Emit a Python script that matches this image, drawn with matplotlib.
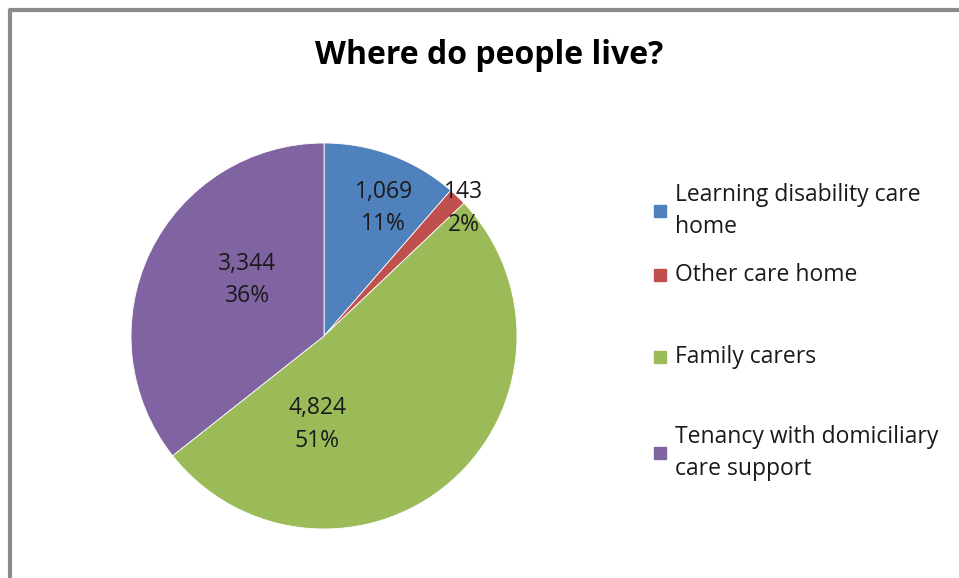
import numpy as np
import matplotlib
matplotlib.use("Agg")
import matplotlib.pyplot as plt
from matplotlib.patches import Rectangle

plt.rcParams['font.family'] = ['Open Sans', 'DejaVu Sans']

categories = ["Learning disability care\nhome", "Other care home", "Family carers",
              "Tenancy with domiciliary\ncare support"]
counts = [1069, 143, 4824, 3344]
colours = ["#4F81BD", "#C0504D", "#9BBB59", "#8064A2"]

# label placement (fraction of radius, angle in degrees) - best fit style
label_pos = [(0.73, 64.9), (0.98, 42.4), (0.46, -94.5), (0.49, 144.0)]
legend_y = [211, 275, 357, 453]

W, H = 959, 578
fig = plt.figure(figsize=(W / 100, H / 100), dpi=100)
ax = fig.add_axes([0, 0, 1, 1])

# chart frame (top & left edges visible)
ax.plot([9.5, 9.5, W], [0, H - 10, H - 10], color='#8a8a8a', lw=3, solid_capstyle='butt')

cx, cy, R = 324, H - 336, 193
total = sum(counts)
wedges, texts = ax.pie(counts, colors=colours, startangle=90, counterclock=False,
                       center=(cx, cy), radius=R, frame=True,
                       wedgeprops=dict(edgecolor='white', linewidth=0.6))
ax.set_xlim(0, W)
ax.set_ylim(0, H)
ax.set_aspect('equal')
ax.axis('off')

for v, (fr, ang) in zip(counts, label_pos):
    a = np.deg2rad(ang)
    pct = int(round(100.0 * v / total))
    ax.text(cx + fr * R * np.cos(a), cy + fr * R * np.sin(a), f"{v:,}\n{pct}%",
            ha='center', va='center', fontsize=16.5, color='#1a1a1a', linespacing=1.45)

ax.text(489, H - 55, "Where do people live?", ha='center', va='center',
        fontsize=23, fontweight='bold', color='black')

for lab, col, y in zip(categories, colours, legend_y):
    ax.add_patch(Rectangle((654, H - y - 6), 12, 12, color=col))
    ax.text(675, H - y, lab, ha='left', va='center', fontsize=16.5,
            color='#1a1a1a', linespacing=1.45)

fig.savefig("out.png", dpi=100)
